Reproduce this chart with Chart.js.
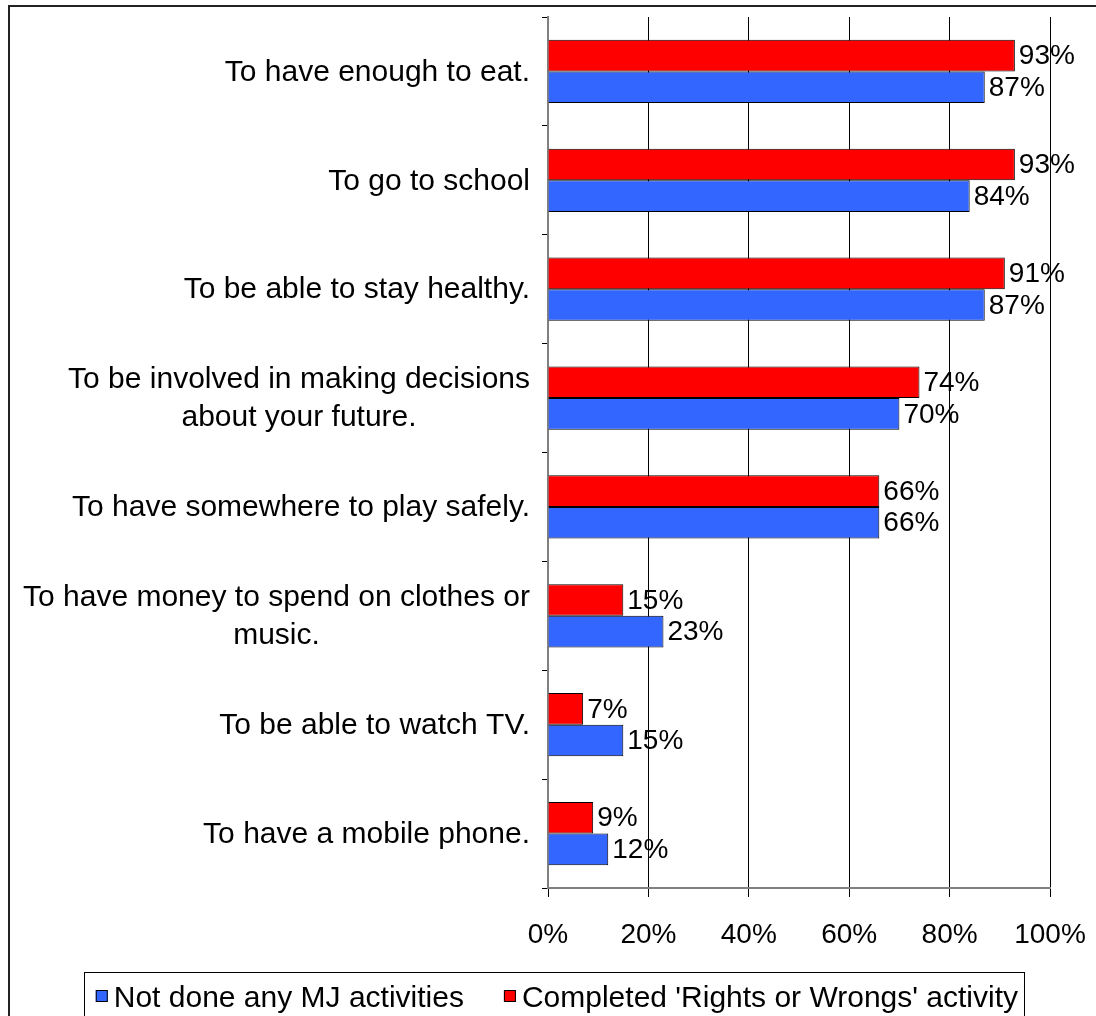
<!DOCTYPE html>
<html>
<head>
<meta charset="utf-8">
<script src="https://cdn.jsdelivr.net/npm/chart.js"></script>
<style>
  body { margin: 0; background: #fff; }
  canvas { display: block; }
</style>
</head>
<body>
<canvas id="myChart" width="1096" height="1016"></canvas>
<script>
let categories = [
    "To have enough to eat.",
    "To go to school",
    "To be able to stay healthy.",
    ["To be involved in making decisions", "about your future."],
    "To have somewhere to play safely.",
    ["To have money to spend on clothes or", "music."],
    "To be able to watch TV.",
    "To have a mobile phone."
];
let completedValues = [93, 93, 91, 74, 66, 15, 7, 9];
let notDoneValues = [87, 84, 87, 70, 66, 23, 15, 12];
let xTicks = [0, 20, 40, 60, 80, 100];

let seriesNames = ["Not done any MJ activities", "Completed 'Rights or Wrongs' activity"];
let blue = "#3366FF";
let red = "#FF0000";
let fontName = "'Liberation Sans', Arial, sans-serif";

/**
 * Draws the frame, the category labels, the value labels and the boxed legend
 */
let extrasPlugin = {
    id: "extras",
    afterDraw(chart) {
        let ctx = chart.ctx;
        ctx.save();

        // outer frame (left and top edges only are visible)
        ctx.strokeStyle = "#222";
        ctx.lineWidth = 2;
        ctx.beginPath();
        ctx.moveTo(9, 1016);
        ctx.lineTo(9, 6);
        ctx.lineTo(1096, 6);
        ctx.stroke();

        // category labels, right aligned block with centred lines
        let yScale = chart.scales.y;
        ctx.fillStyle = "#000";
        ctx.font = "30px " + fontName;
        ctx.textBaseline = "middle";
        ctx.textAlign = "center";
        let lineHeight = 38;
        categories.forEach((cat, i) => {
            let lines = Array.isArray(cat) ? cat : [cat];
            let maxW = Math.max(...lines.map(l => ctx.measureText(l).width));
            let cx = 530 - maxW / 2;
            let cy = yScale.getPixelForValue(i) + 1;
            let start = cy - (lines.length - 1) * lineHeight / 2;
            lines.forEach((l, j) => ctx.fillText(l, cx, start + j * lineHeight));
        });

        // value labels at the bar ends
        ctx.font = "28px " + fontName;
        ctx.textAlign = "left";
        chart.data.datasets.forEach((ds, di) => {
            chart.getDatasetMeta(di).data.forEach((bar, i) => {
                ctx.fillText(ds.data[i] + "%", bar.x + 4, bar.y + 1);
            });
        });

        // legend with a border, partly cut by the bottom edge
        ctx.font = "30px " + fontName;
        ctx.textBaseline = "alphabetic";
        let sq = 12;
        let w0 = ctx.measureText(seriesNames[0]).width;
        let w1 = ctx.measureText(seriesNames[1]).width;
        let boxRight = 1024;
        let text1X = boxRight - 6 - w1;
        let sq1X = text1X - 6 - sq;
        let text0X = sq1X - 40 - w0;
        let sq0X = text0X - 6 - sq;
        let boxLeft = Math.round(sq0X - 12);
        let boxTop = 972;
        ctx.strokeStyle = "#000";
        ctx.lineWidth = 1;
        ctx.strokeRect(boxLeft + 0.5, boxTop + 0.5, boxRight - boxLeft, 52);
        let baseY = 1007;
        let sqY = baseY - 17;
        [[blue, seriesNames[0], sq0X, text0X], [red, seriesNames[1], sq1X, text1X]].forEach(item => {
            ctx.fillStyle = item[0];
            ctx.fillRect(item[2], sqY, sq, sq);
            ctx.strokeRect(item[2] + 0.5, sqY + 0.5, sq - 1, sq - 1);
            ctx.fillStyle = "#000";
            ctx.fillText(item[1], item[3], baseY);
        });

        ctx.restore();
    }
};

new Chart("myChart", {
    type: "bar",
    data: {
        labels: categories,
        datasets: [{
            label: seriesNames[1],
            data: completedValues,
            backgroundColor: red,
            borderColor: "#000",
            borderWidth: 1
        }, {
            label: seriesNames[0],
            data: notDoneValues,
            backgroundColor: blue,
            borderColor: "#000",
            borderWidth: 1
        }]
    },
    options: {
        indexAxis: "y",
        responsive: false,
        animation: false,
        categoryPercentage: 0.58,
        barPercentage: 1.0,
        layout: {
            padding: {left: 542, top: 17, right: 46, bottom: 68}
        },
        plugins: {
            legend: {display: false},
            tooltip: {enabled: false}
        },
        scales: {
            x: {
                min: 0,
                max: 100,
                afterFit(scale) {
                    scale.height = 60;
                    scale.paddingLeft = 0;
                    scale.paddingRight = 0;
                },
                afterBuildTicks(scale) { scale.ticks = xTicks.map(v => ({value: v})); },
                ticks: {
                    callback: v => v + "%",
                    color: "#000",
                    font: {size: 28, family: fontName},
                    padding: 21,
                    maxRotation: 0
                },
                grid: {
                    color: "#000",
                    lineWidth: 1,
                    tickLength: 9,
                    tickColor: "#000"
                },
                border: {color: "#808080", width: 2}
            },
            y: {
                afterFit(scale) { scale.width = 6; },
                ticks: {display: false},
                grid: {
                    offset: true,
                    drawOnChartArea: false,
                    tickLength: 6,
                    color: "#000"
                },
                border: {color: "#808080", width: 2}
            }
        }
    },
    plugins: [extrasPlugin]
});
</script>
</body>
</html>
